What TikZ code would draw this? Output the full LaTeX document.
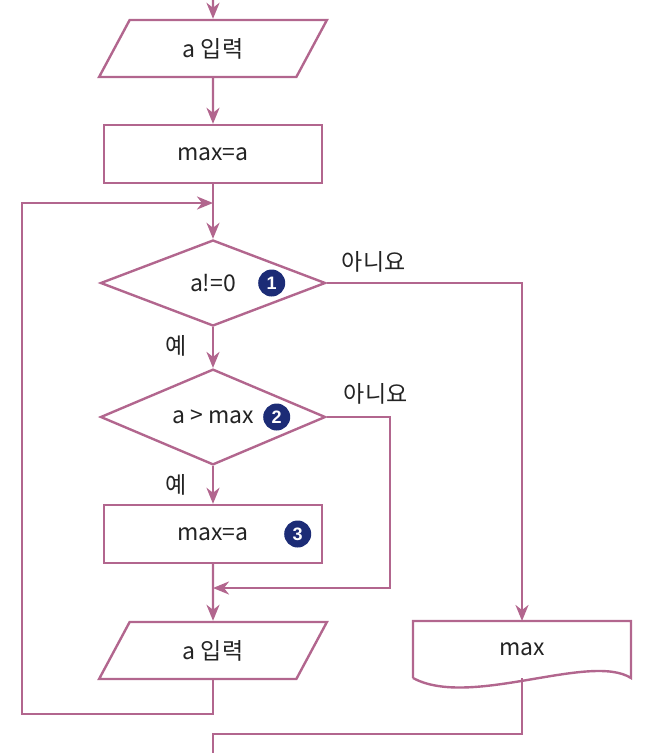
\documentclass[tikz,border=0pt]{standalone}
\usepackage{fontspec}
\setmainfont{Noto Sans CJK KR}
\newfontfamily\numfam{Liberation Sans}
\usepackage{tikz}
\usetikzlibrary{shapes.geometric,arrows.meta,positioning}
\definecolor{fcLine}{RGB}{178,102,142}
\definecolor{fcNum}{RGB}{28,44,118}
\definecolor{fcText}{RGB}{35,35,35}
\newcommand\flowfont{\fontsize{23}{26}\selectfont}
\newcommand\numfont{\numfam\fontsize{18}{18}\selectfont\bfseries}

\begin{document}
\begin{tikzpicture}[x=1pt, y=-1pt,
  box/.style={draw=fcLine, line width=2.4pt, rectangle, minimum width=218pt, minimum height=58pt, inner sep=0pt, text=fcText, font=\flowfont},
  inbox/.style={draw=fcLine, line width=2.4pt, trapezium, trapezium left angle=62, trapezium right angle=118, trapezium stretches=true, minimum width=228pt, minimum height=57pt, inner sep=0pt, text=fcText, font=\flowfont},
  cond/.style={draw=fcLine, line width=2.4pt, diamond, minimum width=225pt, minimum height=86pt, inner sep=0pt, text=fcText, font=\flowfont},
  num/.style={circle, fill=fcNum, text=white, minimum size=27pt, inner sep=0pt, font=\numfont},
  lbl/.style={text=fcText, inner sep=0pt, font=\flowfont},
  link/.style={draw=fcLine, line width=2.4pt},
  arr/.style={link, -{Stealth[length=16pt, width=13pt, inset=5pt]}}]
  \useasboundingbox (0,0) rectangle (645,753);

  % main column
  \node[inbox] (in1) at (213,48.5) {a 입력};
  \node[box] (init) at (213,154) {max=a};
  \node[cond] (d1) at (213,283) {a!=0};
  \node[cond] (d2) at (213,417) {a > max};
  \node[box] (upd) at (213,534) {max=a};
  \node[inbox] (in2) at (213,650.5) {a 입력};
  \node[lbl, minimum width=218pt, minimum height=57pt, outer sep=0pt] (out) at (522,649.5) {max};

  % step numbers
  \node[num, right=45pt of d1.center] (n1) {1};
  \node[num, right=50pt of d2.center] (n2) {2};
  \node[num, right=71pt of upd.center] (n3) {3};

  % branch labels
  \node[lbl, anchor=west] (no1) at ([xshift=15pt, yshift=21pt]d1.east) {아니요};
  \node[lbl, anchor=west] (no2) at ([xshift=17pt, yshift=23pt]d2.east) {아니요};
  \node[lbl, anchor=east] (yes1) at ([xshift=-26pt, yshift=-19pt]d1.south) {예};
  \node[lbl, anchor=east] (yes2) at ([xshift=-26pt, yshift=-19pt]d2.south) {예};

  % output (document) shape
  \draw[link] (out.south west) -- (out.north west) -- (out.north east) -- (out.south east)
    .. controls +(-41,-26) and +(57,31) .. (out.south west);

  \coordinate (top) at (213,0);
  \coordinate (j1) at (213,203);
  \coordinate (j2) at (213,588);
  \coordinate (c2) at (390,588);
  \coordinate (back) at (22,714);
  \coordinate (low) at (213,734);
  \coordinate (bot) at (213,753);

  \draw[arr] (top) -- (in1);
  \draw[arr] (in1) -- (init);
  \draw[arr] (init) -- (d1);
  \draw[arr] (d1) -- (d2);
  \draw[arr] (d2) -- (upd);
  \draw[arr] (upd) -- (in2);
  \draw[arr] (in2.south) |- (back) |- (j1);
  \draw[arr] (d1.east) -| (out.north);
  \draw[arr] (d2.east) -| (c2) -- (j2);
  \draw[link] (out.south) |- (low) -- (bot);
\end{tikzpicture}
\end{document}
